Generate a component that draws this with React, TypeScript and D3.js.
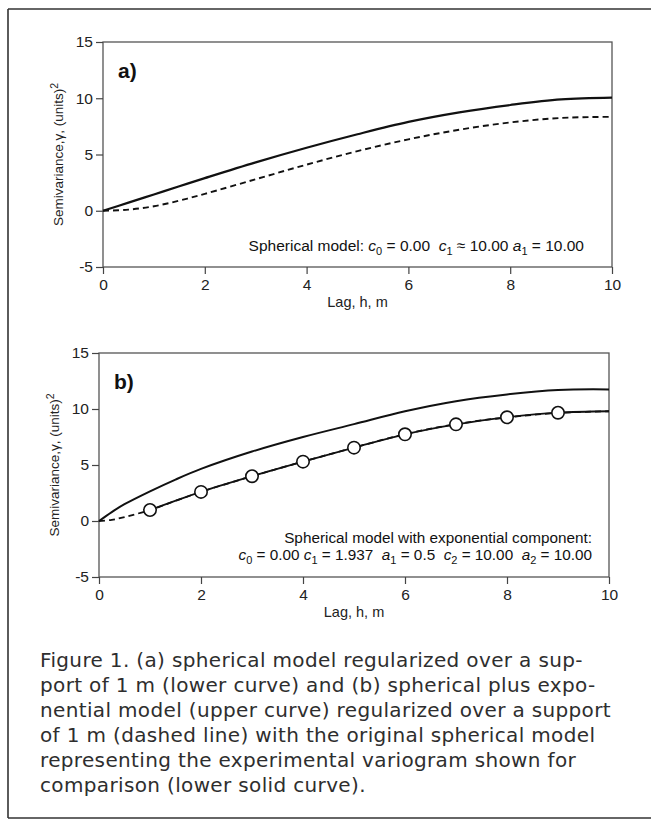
import React, { useEffect, useRef } from 'react';
import * as d3 from 'd3';

// shared axis ticks
const lagTicks = [0, 2, 4, 6, 8, 10];
const gammaTicks = [-5, 0, 5, 10, 15];

// panel a: spherical model (solid) and its regularized version (dashed)
const lagA = [0, 0.5, 1, 1.5, 2, 3, 4, 5, 6, 7, 8, 9, 10];
const sphericalA = [0, 0.72, 1.45, 2.18, 2.9, 4.3, 5.6, 6.8, 7.9, 8.75, 9.4, 9.9, 10.05];
const regularizedA = [0, 0.1, 0.4, 0.9, 1.5, 2.8, 4.1, 5.3, 6.35, 7.2, 7.85, 8.25, 8.35];

// panel b: spherical + exponential (upper), regularized (dashed), experimental (circles)
const lagB = [0, 0.25, 0.5, 1, 1.5, 2, 3, 4, 5, 6, 7, 8, 9, 10];
const upperB = [0, 0.8, 1.5, 2.65, 3.7, 4.65, 6.2, 7.5, 8.65, 9.8, 10.7, 11.3, 11.7, 11.75];
const regularizedB = [0, 0.1, 0.35, 0.98, 1.8, 2.6, 4.0, 5.3, 6.55, 7.75, 8.65, 9.25, 9.65, 9.8];
const lowerLagB = [1, 2, 3, 4, 5, 6, 7, 8, 9, 10];
const lowerB = [0.98, 2.6, 4.0, 5.3, 6.55, 7.74, 8.63, 9.26, 9.67, 9.8];
const expLag = [1, 2, 3, 4, 5, 6, 7, 8, 9];
const expGamma = [0.98, 2.6, 4.0, 5.3, 6.55, 7.74, 8.63, 9.26, 9.67];

const captionLines = [
  'Figure 1. (a) spherical model regularized over a sup-',
  'port of 1 m (lower curve) and (b) spherical plus expo-',
  'nential model (upper curve) regularized over a support',
  'of 1 m (dashed line) with the original spherical model',
  'representing the experimental variogram shown for',
  'comparison (lower solid curve).',
];

const FONT = '"Liberation Sans", Arial, Helvetica, sans-serif';

type Series = { xs: number[]; ys: number[]; dashed?: boolean; width: number };

const Panel = ({ x0, x1, yTop, yBottom, tag, series, points, children }: any) => {
  const xAxisRef = useRef<SVGGElement>(null);
  const yAxisRef = useRef<SVGGElement>(null);

  const xScale = d3.scaleLinear().domain([0, 10]).range([x0, x1]);
  const yScale = d3.scaleLinear().domain([-5, 15]).range([yBottom, yTop]);

  useEffect(() => {
    const fmt = (d: any) => String(d);

    const gx = d3.select(xAxisRef.current);
    gx.call(d3.axisBottom(xScale).tickValues(lagTicks).tickFormat(fmt).tickSize(7).tickSizeOuter(0).tickPadding(5) as any);
    gx.select('.domain').remove();
    gx.attr('font-size', 15.5).attr('font-family', FONT);
    gx.selectAll('line').attr('stroke', '#444').attr('stroke-width', 1.2);
    gx.selectAll('text').attr('fill', '#222');

    const gy = d3.select(yAxisRef.current);
    gy.call(d3.axisLeft(yScale).tickValues(gammaTicks).tickFormat(fmt).tickSize(7).tickSizeOuter(0).tickPadding(3) as any);
    gy.select('.domain').remove();
    gy.attr('font-size', 15.5).attr('font-family', FONT);
    gy.selectAll('line').attr('stroke', '#444').attr('stroke-width', 1.2);
    gy.selectAll('text').attr('fill', '#222');
  }, []);

  const line = d3
    .line<[number, number]>()
    .x((d) => xScale(d[0]))
    .y((d) => yScale(d[1]))
    .curve(d3.curveCatmullRom.alpha(0.5));

  const midY = (yTop + yBottom) / 2;

  return (
    <g>
      <rect x={x0} y={yTop} width={x1 - x0} height={yBottom - yTop} fill="none" stroke="#555" strokeWidth={1.3} />
      {series.map((s: Series, i: number) => (
        <path
          key={i}
          d={line(s.xs.map((x, j) => [x, s.ys[j]]) as [number, number][]) || ''}
          fill="none"
          stroke="#111"
          strokeWidth={s.width}
          strokeDasharray={s.dashed ? '6,4' : undefined}
        />
      ))}
      {points &&
        points.xs.map((x: number, i: number) => (
          <circle key={i} cx={xScale(x)} cy={yScale(points.ys[i])} r={6.2} fill="#fff" stroke="#111" strokeWidth={1.6} />
        ))}
      <g ref={xAxisRef} transform={`translate(0, ${yBottom})`} />
      <g ref={yAxisRef} transform={`translate(${x0}, 0)`} />
      <text x={x0 + 15} y={yTop + 36} fontFamily={FONT} fontWeight="bold" fontSize={21} fill="#111">
        {tag}
      </text>
      <text
        transform={`translate(${x0 - 40}, ${midY}) rotate(-90)`}
        textAnchor="middle"
        fontFamily={FONT}
        fontSize={13.5}
        fill="#222"
      >
        Semivariance,γ, (units)<tspan dy={-5} fontSize={10.5}>2</tspan>
      </text>
      <text x={(x0 + x1) / 2} y={yBottom + 40} textAnchor="middle" fontFamily={FONT} fontSize={14.5} fill="#222">
        Lag, h, m
      </text>
      {children}
    </g>
  );
};

const C = ({ v, s }: { v: string; s: string }) => (
  <>
    <tspan fontStyle="italic">{v}</tspan>
    <tspan dy={4} fontSize={11}>{s}</tspan>
    <tspan dy={-4}>{' '}</tspan>
  </>
);

const noteStyle = { whiteSpace: 'pre' } as React.CSSProperties;

const App = () => {
  return (
    <svg width={651} height={822} style={{ position: 'absolute', left: 0, top: 0, background: '#fff' }}>
      {/* frame */}
      <line x1={8} y1={9} x2={651} y2={9} stroke="#333" strokeWidth={1.6} />
      <line x1={8} y1={9} x2={8} y2={818} stroke="#333" strokeWidth={1.6} />
      <line x1={8} y1={818} x2={651} y2={818} stroke="#333" strokeWidth={1.6} />

      <Panel
        x0={103}
        x1={612}
        yTop={42}
        yBottom={267}
        tag="a)"
        series={[
          { xs: lagA, ys: sphericalA, width: 2.2 },
          { xs: lagA, ys: regularizedA, dashed: true, width: 1.9 },
        ]}
      >
        <text x={584} y={251} textAnchor="end" fontFamily={FONT} fontSize={15.5} fill="#111" style={noteStyle}>
          Spherical model: <C v="c" s="0" />= 0.00  <C v="c" s="1" />≈ 10.00 <C v="a" s="1" />= 10.00
        </text>
      </Panel>

      <Panel
        x0={99}
        x1={609}
        yTop={353}
        yBottom={577}
        tag="b)"
        series={[
          { xs: lagB, ys: upperB, width: 2 },
          { xs: lagB, ys: regularizedB, dashed: true, width: 1.8 },
          { xs: lowerLagB, ys: lowerB, width: 1.8 },
        ]}
        points={{ xs: expLag, ys: expGamma }}
      >
        <text x={592} y={543} textAnchor="end" fontFamily={FONT} fontSize={15.3} fill="#111" style={noteStyle}>
          Spherical model with exponential component:
        </text>
        <text x={592} y={560} textAnchor="end" fontFamily={FONT} fontSize={15.3} fill="#111" style={noteStyle}>
          <C v="c" s="0" />= 0.00 <C v="c" s="1" />= 1.937  <C v="a" s="1" />= 0.5  <C v="c" s="2" />= 10.00  <C v="a" s="2" />= 10.00
        </text>
      </Panel>

      {captionLines.map((t, i) => (
        <text
          key={i}
          x={40}
          y={667 + i * 25}
          fontFamily={'"DejaVu Sans", sans-serif'}
          fontSize={20}
          letterSpacing={0.35}
          fill="#2e2e2e"
        >
          {t}
        </text>
      ))}
    </svg>
  );
};

export default App;
